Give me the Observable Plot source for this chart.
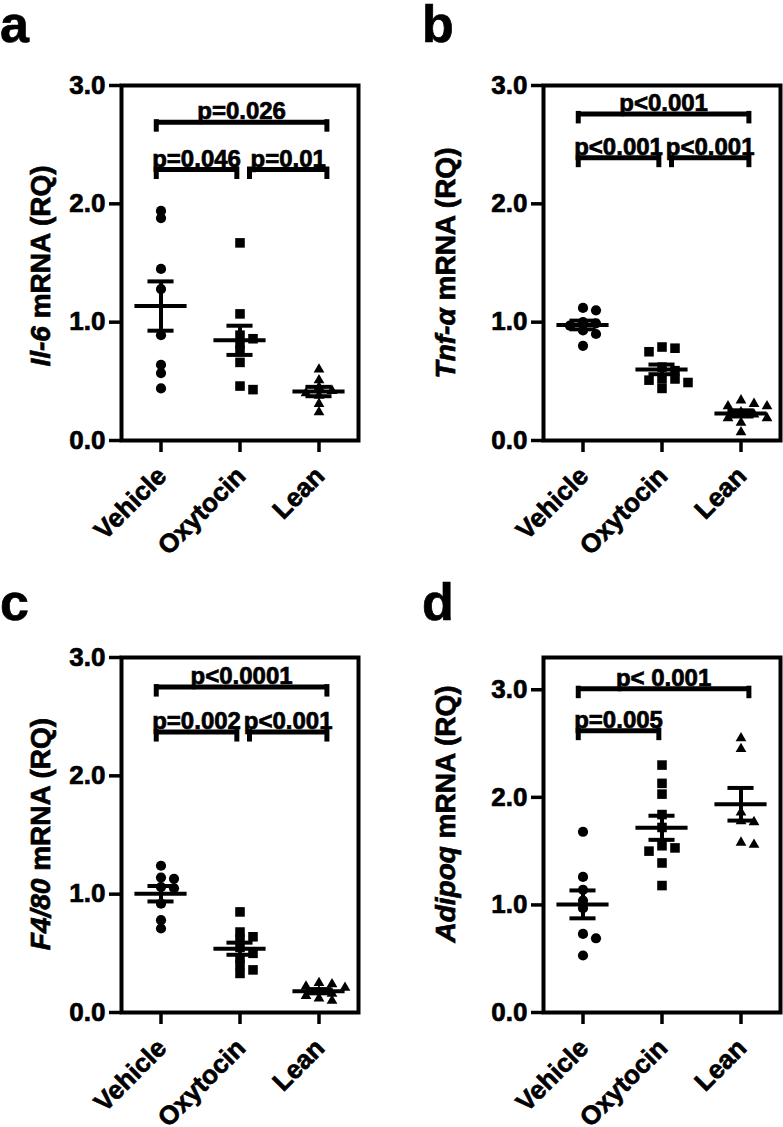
<!DOCTYPE html>
<html><head><meta charset="utf-8">
<script src="https://cdn.jsdelivr.net/npm/d3@7"></script>
<script src="https://cdn.jsdelivr.net/npm/@observablehq/plot@0.6"></script>
<style>
body{margin:0;background:#fff;}
#root{position:relative;width:783px;height:1127px;overflow:hidden;font-family:"Liberation Sans",Arial,sans-serif;}
.panel{position:absolute;}
#root svg text{stroke:black;stroke-width:0.7px;}
</style></head><body><div id="root"></div>
<script>
// ---- data ----
const groups = ["Vehicle", "Oxytocin", "Lean"];
const yTicks = [0, 1, 2, 3];

const il6Vehicle  = [1.94, 1.88, 1.45, 1.28, 0.89, 0.64, 0.57, 0.44];
const il6Oxytocin = [1.67, 1.07, 0.89, 0.86, 0.82, 0.76, 0.66, 0.46, 0.43];
const il6Lean     = [0.60, 0.51, 0.45, 0.42, 0.40, 0.38, 0.31, 0.24];

const tnfVehicle  = [1.12, 1.10, 1.00, 0.99, 0.97, 0.93, 0.90, 0.80];
const tnfOxytocin = [0.79, 0.78, 0.75, 0.62, 0.59, 0.52, 0.52, 0.51, 0.49, 0.44];
const tnfLean     = [0.34, 0.31, 0.29, 0.29, 0.24, 0.22, 0.19, 0.19, 0.15, 0.07];

const f480Vehicle  = [1.24, 1.14, 1.13, 1.06, 1.05, 0.92, 0.78, 0.71];
const f480Oxytocin = [0.85, 0.68, 0.64, 0.62, 0.55, 0.50, 0.46, 0.40, 0.36, 0.33];
const f480Lean     = [0.25, 0.24, 0.22, 0.21, 0.18, 0.16, 0.14, 0.12, 0.10];

const adipoqVehicle  = [1.68, 1.26, 1.14, 1.04, 0.97, 0.73, 0.69, 0.53];
const adipoqOxytocin = [2.30, 2.13, 2.03, 1.84, 1.72, 1.55, 1.53, 1.50, 1.39, 1.18];
const adipoqLean     = [2.55, 2.45, 1.86, 1.78, 1.77, 1.58, 1.56];

// comparisons: [from group, to group, bracket height, label]
const il6Brackets    = [[0, 1, 2.29, "p=0.046"], [1, 2, 2.29, "p=0.01"], [0, 2, 2.69, "p=0.026"]];
const tnfBrackets    = [[0, 1, 2.39, "p<0.001"], [1, 2, 2.39, "p<0.001"], [0, 2, 2.76, "p<0.001"]];
const f480Brackets   = [[0, 1, 2.37, "p=0.002"], [1, 2, 2.37, "p<0.001"], [0, 2, 2.75, "p<0.0001"]];
const adipoqBrackets = [[0, 1, 2.62, "p=0.005"], [0, 2, 3.01, "p< 0.001"]];

// ---- drawing ----
const FONT = '"Liberation Sans", Arial, Helvetica, sans-serif';
const root = document.getElementById("root");
const symbols = ["circle", "square", "triangle"];
const dotR = [5.1, 5.4, 4.0];

function panel(o) {
  const W = 361, mL = 121, mR = 3, mT = 85, frameH = 355;
  const H = o.height;
  const pxU = frameH / o.ymax;
  const pxX = (W - mL - mR) / 3;
  const pts = [], stats = [];
  o.data.forEach((vals, gi) => {
    const placed = [];
    vals.forEach(v => {
      const py = v * pxU;
      let off = 0;
      for (const c of [0, 13, -13, 26, -26, 39, -39]) {
        if (!placed.some(p => Math.abs(p.py - py) < 6 && Math.abs(p.off - c) < 11)) { off = c; break; }
      }
      placed.push({py, off});
      pts.push({gi, v, x: gi + off / pxX});
    });
    const m = d3.mean(vals), s = d3.deviation(vals) / Math.sqrt(vals.length);
    stats.push({gi, m, lo: m - s, hi: m + s});
  });
  const br = o.brackets.map(([a, b, y, label]) => ({
    x1: a + (a === 1 ? 0.12 : -0.06),
    x2: b + (b === 1 ? -0.04 : 0.1),
    y, label
  }));
  const ends = br.flatMap(d => [{x: d.x1, y: d.y}, {x: d.x2, y: d.y}]);
  const tick = 10 / pxU, half = 2.5 / pxU;

  const plot = Plot.plot({
    width: W, height: H,
    marginLeft: mL, marginRight: mR, marginTop: mT, marginBottom: H - mT - frameH,
    style: {fontFamily: FONT, color: "black", background: "transparent", overflow: "visible"},
    x: {type: "linear", domain: [-0.5, 2.5]},
    y: {domain: [0, o.ymax]},
    marks: [
      Plot.axisY({ticks: yTicks, tickSize: 12, tickPadding: 4, tickFormat: d3.format(".1f"),
        fontSize: 26, fontWeight: "bold", strokeWidth: 3.5, label: null}),
      Plot.axisX({ticks: [0, 1, 2], tickSize: 12, tickFormat: () => "", strokeWidth: 3.5, label: null}),
      Plot.text(groups, {x: (d, i) => i, frameAnchor: "bottom", text: d => d, rotate: -45,
        textAnchor: "end", lineAnchor: "top", dx: -6, dy: 24, fontSize: 26, fontWeight: "bold", fill: "black"}),
      ...[0, 1, 2].map(gi => Plot.dot(pts.filter(p => p.gi === gi),
        {x: "x", y: "v", symbol: () => symbols[gi], r: dotR[gi], fill: "black", stroke: null})),
      Plot.ruleY(stats, {y: "m", x1: d => d.gi - 0.33, x2: d => d.gi + 0.33, strokeWidth: 4}),
      Plot.ruleX(stats, {x: "gi", y1: "lo", y2: "hi", strokeWidth: 4}),
      Plot.ruleY(stats, {y: "lo", x1: d => d.gi - 0.165, x2: d => d.gi + 0.165, strokeWidth: 4}),
      Plot.ruleY(stats, {y: "hi", x1: d => d.gi - 0.165, x2: d => d.gi + 0.165, strokeWidth: 4}),
      Plot.ruleY(br, {y: "y", x1: "x1", x2: "x2", strokeWidth: 5}),
      Plot.ruleX(ends, {x: "x", y1: d => d.y + half, y2: d => d.y - tick, strokeWidth: 5}),
      Plot.text(br, {x: d => (d.x1 + d.x2) / 2, y: "y", text: "label", lineAnchor: "bottom", dy: -3,
        fontSize: 24, fontWeight: "bold", fill: "black"}),
      Plot.frame({strokeWidth: 4, stroke: "black"})
    ]
  });
  const svg = d3.select(plot);
  const t = svg.append("text")
    .attr("transform", `translate(${o.labelX},${o.labelY}) rotate(-90)`)
    .attr("text-anchor", "middle").attr("font-size", 28).attr("font-weight", "bold")
    .attr("fill", "black").attr("font-family", FONT);
  t.append("tspan").attr("font-style", "italic").text(o.yItalic);
  t.append("tspan").text(o.yRest);
  svg.append("text").attr("x", 0).attr("y", o.letterY).attr("font-size", 52)
    .attr("text-anchor", "start")
    .attr("font-weight", "bold").attr("font-family", FONT).attr("fill", "black").text(o.letter);

  const div = document.createElement("div");
  div.className = "panel";
  div.style.left = o.left + "px";
  div.style.top = o.top + "px";
  div.style.width = W + "px";
  div.appendChild(plot);
  root.appendChild(div);
}

panel({left: 0, top: 0, height: 560, ymax: 3, data: [il6Vehicle, il6Oxytocin, il6Lean],
  brackets: il6Brackets, yItalic: "Il-6", yRest: " mRNA (RQ)", letter: "a", letterY: 42, labelX: 50, labelY: 266});
panel({left: 422, top: 0, height: 560, ymax: 3, data: [tnfVehicle, tnfOxytocin, tnfLean],
  brackets: tnfBrackets, yItalic: "Tnf-\u03b1", yRest: " mRNA (RQ)", letter: "b", letterY: 42, labelX: 33, labelY: 263});
panel({left: 0, top: 572, height: 555, ymax: 3, data: [f480Vehicle, f480Oxytocin, f480Lean],
  brackets: f480Brackets, yItalic: "F4/80", yRest: " mRNA (RQ)", letter: "c", letterY: 48, labelX: 50, labelY: 262});
panel({left: 422, top: 572, height: 555, ymax: 3.3, data: [adipoqVehicle, adipoqOxytocin, adipoqLean],
  brackets: adipoqBrackets, yItalic: "Adipoq", yRest: " mRNA (RQ)", letter: "d", letterY: 48, labelX: 33, labelY: 242});
</script></body></html>
